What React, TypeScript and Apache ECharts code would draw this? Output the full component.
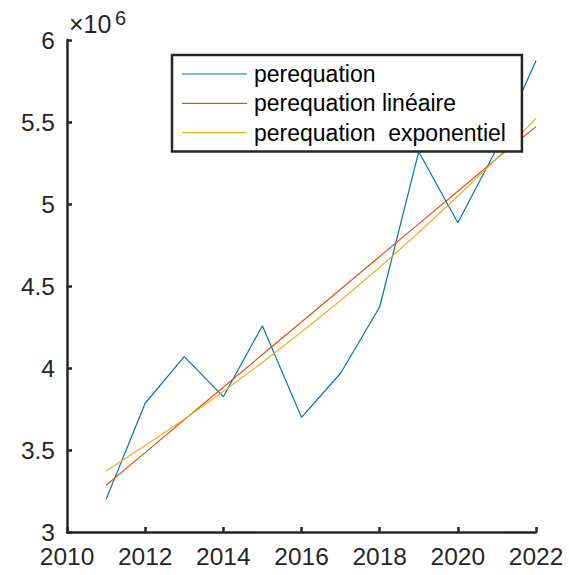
import React, { useEffect, useRef } from "react";
import * as echarts from "echarts";

const years = [2011, 2012, 2013, 2014, 2015, 2016, 2017, 2018, 2019, 2020, 2021, 2022];
// values in units of 10^6
const perequation = [3.199, 3.785, 4.069, 3.825, 4.258, 3.699, 3.968, 4.372, 5.319, 4.886, 5.34, 5.874];
const perequationLineaire = [3.285, 3.484, 3.684, 3.883, 4.082, 4.281, 4.48, 4.68, 4.879, 5.078, 5.278, 5.472];
const perequationExponentiel = [3.372, 3.527, 3.688, 3.857, 4.034, 4.219, 4.412, 4.614, 4.826, 5.047, 5.278, 5.522];
const seriesNames = ["perequation", "perequation linéaire", "perequation  exponentiel"];
const SCALE = 1e6;

const FONT = "'Liberation Sans', Arial, Helvetica, sans-serif";
const AXIS = "#262626";

export default function App() {
  const ref = useRef<HTMLDivElement>(null);
  useEffect(() => {
    document.body.style.margin = "0";
    const chart = echarts.init(ref.current!, null, { renderer: "svg" });
    const toPts = (arr: number[]) => years.map((y, i) => [y, arr[i] * SCALE]);
    const colors = ["#0072BD", "#D95319", "#EDB120"];
    const datasets = [perequation, perequationLineaire, perequationExponentiel];
    chart.setOption({
      animation: false,
      backgroundColor: "#fff",
      grid: { left: 67, right: 33, top: 40, bottom: 43, containLabel: false },
      xAxis: {
        type: "value",
        min: 2010,
        max: 2022,
        interval: 2,
        splitLine: { show: false },
        axisLine: { show: true, lineStyle: { color: AXIS, width: 2.5 } },
        axisTick: { show: true, inside: true, length: 5, lineStyle: { color: AXIS, width: 2.5 } },
        axisLabel: {
          color: AXIS,
          fontFamily: FONT,
          fontSize: 24.5,
          margin: 12,
          formatter: (v: number) => String(v),
        },
      },
      yAxis: {
        type: "value",
        min: 3 * SCALE,
        max: 6 * SCALE,
        interval: 0.5 * SCALE,
        splitLine: { show: false },
        axisLine: { show: true, lineStyle: { color: AXIS, width: 2.5 } },
        axisTick: { show: true, inside: true, length: 5, lineStyle: { color: AXIS, width: 2.5 } },
        axisLabel: {
          color: AXIS,
          fontFamily: FONT,
          fontSize: 24.5,
          margin: 12,
          formatter: (v: number) => String(Math.round((v / SCALE) * 10) / 10),
        },
      },
      legend: {
        orient: "vertical",
        left: 172,
        top: 55,
        icon: "rect",
        itemWidth: 65,
        itemHeight: 1.2,
        itemGap: 5.3,
        padding: [7, 16, 7, 10],
        borderColor: AXIS,
        borderWidth: 2.5,
        borderRadius: 0,
        backgroundColor: "#fff",
        textStyle: { color: "#000", fontFamily: FONT, fontSize: 23, lineHeight: 24, padding: [0, 0, 0, 2] },
        data: seriesNames,
      },
      series: datasets.map((d, i) => ({
        name: seriesNames[i],
        type: "line",
        data: toPts(d),
        symbol: "none",
        showSymbol: false,
        color: colors[i],
        itemStyle: { color: colors[i] },
        lineStyle: { color: colors[i], width: 1.2 },
        z: 2,
      })),
      graphic: [
        {
          type: "text",
          left: 69,
          top: 11,
          style: { text: "×10", fill: AXIS, font: `25px ${FONT}` },
        },
        {
          type: "text",
          left: 115,
          top: 8,
          style: { text: "6", fill: AXIS, font: `20px ${FONT}` },
        },
      ],
    });
    return () => chart.dispose();
  }, []);
  return (
    <div
      ref={ref}
      style={{ position: "fixed", left: 0, top: 0, width: 569, height: 575 }}
    />
  );
}
